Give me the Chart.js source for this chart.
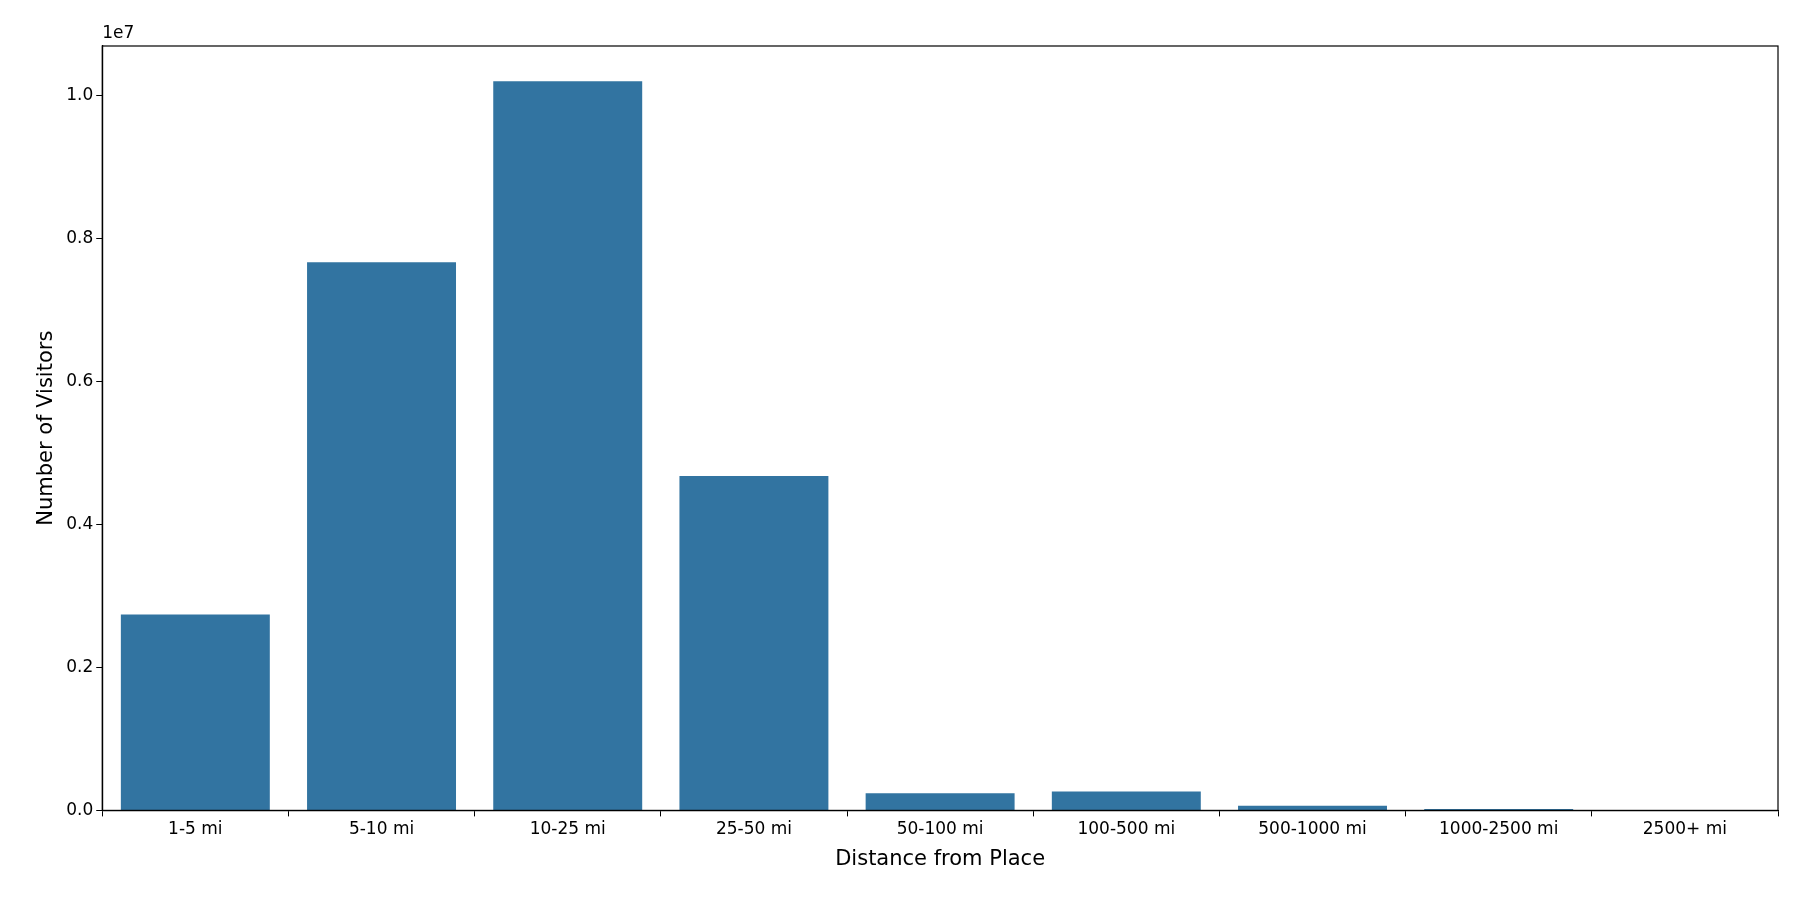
<!DOCTYPE html>
<html>
<head>
<meta charset="utf-8">
<script src="https://cdn.jsdelivr.net/npm/chart.js@4"></script>
<style>
  html, body { margin: 0; padding: 0; background: #fff; }
  #wrap { width: 1800px; height: 900px; }
</style>
</head>
<body>
<div id="wrap"><canvas id="chart"></canvas></div>
<script>
// 数据
const categories = ['1-5 mi', '5-10 mi', '10-25 mi', '25-50 mi', '50-100 mi', '100-500 mi', '500-1000 mi', '1000-2500 mi', '2500+ mi'];
const visitors = [2740000, 7670000, 10200000, 4680000, 240000, 265000, 65000, 20000, 5000];
const yTicks = [0, 2000000, 4000000, 6000000, 8000000, 10000000];

// 偏移标签 1e7
const offsetLabel = {
    id: 'offsetLabel',
    afterDraw(chart) {
        const { ctx, chartArea } = chart;
        ctx.save();
        ctx.font = '17px "DejaVu Sans"';
        ctx.fillStyle = '#000';
        ctx.textBaseline = 'bottom';
        ctx.fillText('1e7', chartArea.left, chartArea.top - 4);
        ctx.restore();
    }
};

new Chart(document.getElementById('chart'), {
    type: 'bar',
    data: {
        labels: categories,
        datasets: [{
            data: visitors,
            backgroundColor: '#3274a1',
            categoryPercentage: 0.8,
            barPercentage: 1.0
        }]
    },
    options: {
        responsive: true,
        maintainAspectRatio: false,
        animation: false,
        layout: { padding: { top: 46, right: 22, left: 30, bottom: 24 } },
        plugins: { legend: { display: false }, tooltip: { enabled: false } },
        scales: {
            x: {
                grid: { display: true, drawOnChartArea: false, drawTicks: true, tickLength: 6, tickColor: '#000' },
                border: { color: '#000', width: 1.2 },
                ticks: { color: '#000', font: { family: 'DejaVu Sans', size: 17 } },
                title: { display: true, text: 'Distance from Place', color: '#000', font: { family: 'DejaVu Sans', size: 21 } }
            },
            y: {
                min: 0,
                max: 10694000,
                afterBuildTicks: axis => { axis.ticks = yTicks.map(v => ({ value: v })); },
                grid: { display: true, drawOnChartArea: false, drawTicks: true, tickLength: 6, tickColor: '#000' },
                border: { color: '#000', width: 1.2 },
                ticks: { color: '#000', font: { family: 'DejaVu Sans', size: 17 }, callback: v => (v / 1e7).toFixed(1) },
                title: { display: true, text: 'Number of Visitors', color: '#000', font: { family: 'DejaVu Sans', size: 21 } }
            }
        }
    },
    plugins: [offsetLabel, {
        id: 'frame',
        afterDraw(chart) {
            const { ctx, chartArea: a } = chart;
            ctx.save();
            ctx.strokeStyle = '#000';
            ctx.lineWidth = 1.2;
            ctx.strokeRect(a.left, a.top, a.right - a.left, a.bottom - a.top);
            ctx.restore();
        }
    }]
});
</script>
</body>
</html>
